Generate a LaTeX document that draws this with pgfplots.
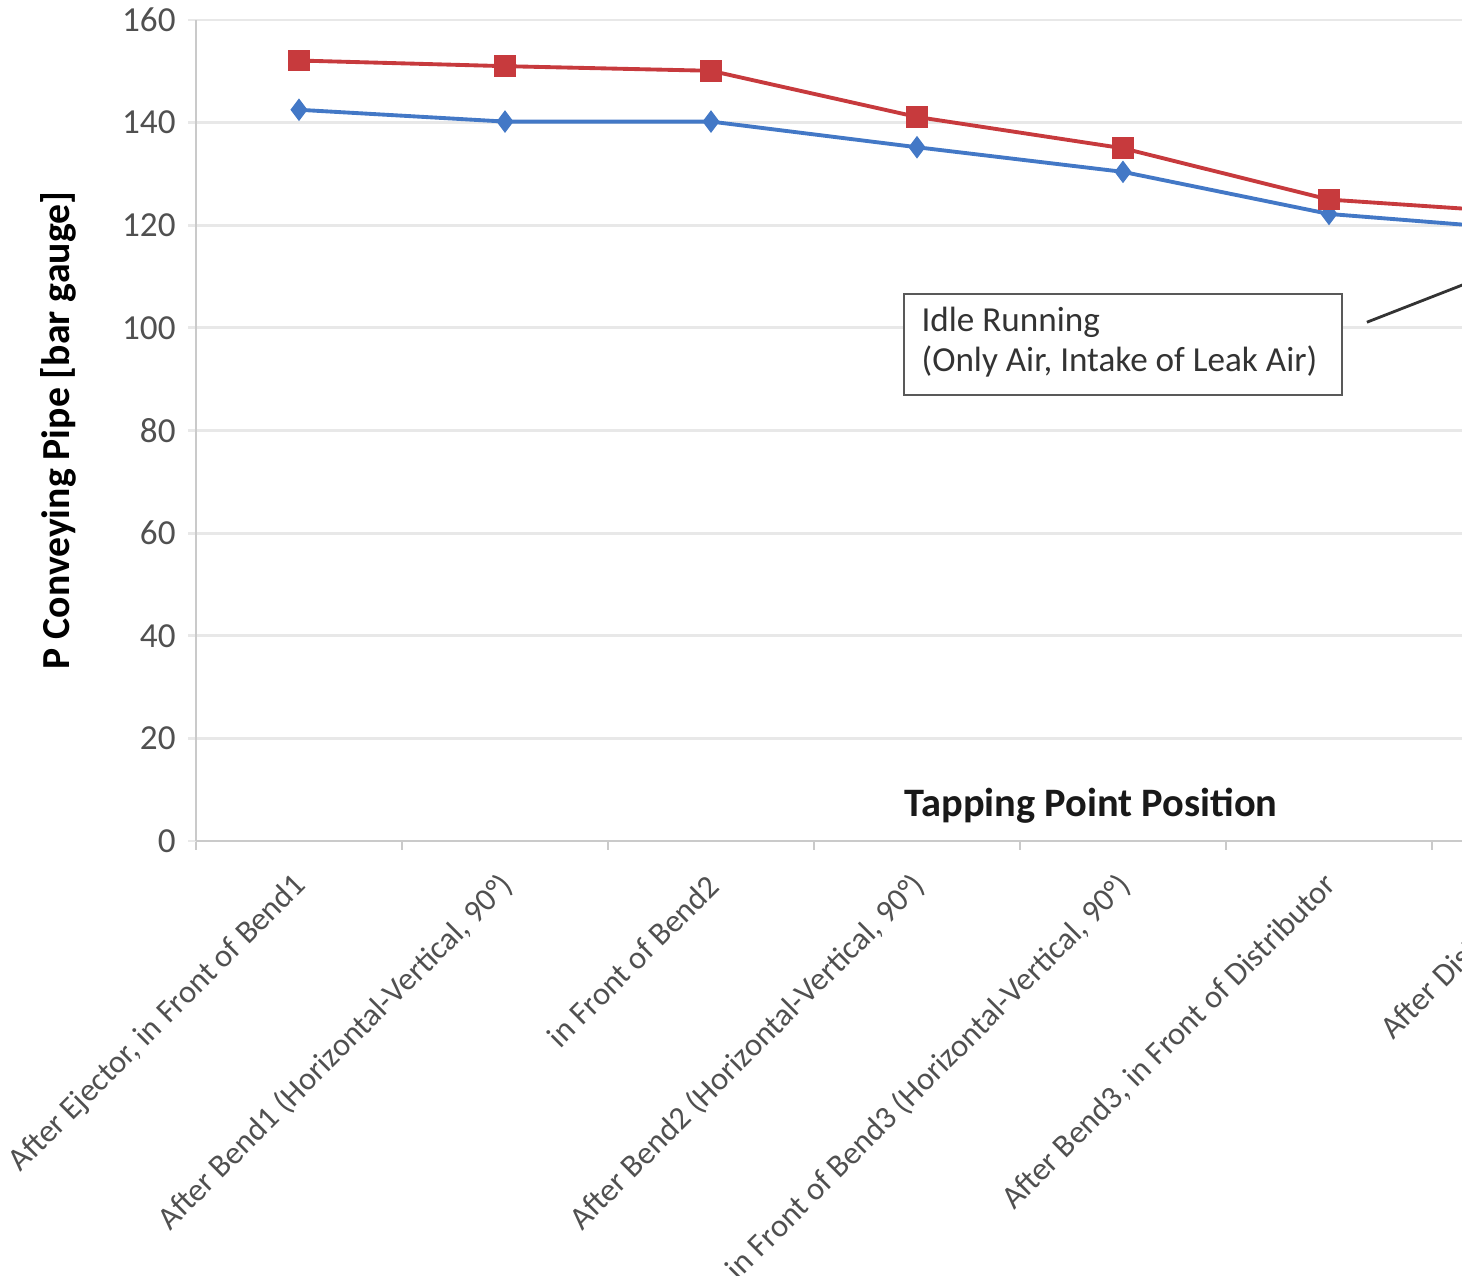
\documentclass[border=0pt]{standalone}
\usepackage{pgfplots}
\pgfplotsset{compat=1.18}
\usepackage{fontspec}
\setmainfont{Carlito}
\definecolor{exred}{HTML}{C73A3D}
\definecolor{exblue}{HTML}{4378C6}
\definecolor{ticktext}{HTML}{505050}
\definecolor{gridc}{HTML}{E8E8E8}
\definecolor{axc}{HTML}{CACACA}
\begin{document}
\begin{tikzpicture}
\useasboundingbox (0,0) rectangle (14.62cm,12.76cm);
\clip (0,0) rectangle (14.62cm,12.76cm);
\begin{axis}[
  at={(1.96cm,4.35cm)}, anchor=south west,
  scale only axis, width=14.42cm, height=8.21cm,
  xmin=-0.5, xmax=6.5, ymin=0, ymax=160,
  axis lines*=left,
  axis line style={draw=axc, line width=0.8pt},
  /pgf/number format/assume math mode=true,
  xtick={0,...,6},
  xticklabels={After Ejector{,} in Front of Bend1,
    After Bend1 (Horizontal-Vertical{,} 90°),
    in Front of Bend2,
    After Bend2 (Horizontal-Vertical{,} 90°),
    in Front of Bend3 (Horizontal-Vertical{,} 90°),
    After Bend3{,} in Front of Distributor,
    After Distributor},
  minor xtick={-0.5,0.5,...,6.5},
  ytick={0,20,...,160},
  ymajorgrids,
  grid style={draw=gridc, line width=0.8pt},
  tick align=outside,
  major tick length=0.08cm,
  minor tick length=0.09cm,
  major x tick style={draw=none},
  minor x tick style={draw=axc, line width=0.8pt},
  ytick style={draw=gridc, line width=0.8pt},
  yticklabel style={font=\fontsize{10}{12}\selectfont, text=ticktext},
  xticklabel style={xshift=0.3mm, yshift=-3.1mm, rotate=45, anchor=east, inner sep=0pt,
    font=\fontsize{9.2}{11}\selectfont, text=ticktext},
  ylabel={P Conveying Pipe [bar gauge]},
  ylabel style={at={(axis description cs:-0.0957,0.5)}, anchor=center,
    font=\bfseries\fontsize{11.3}{13}\selectfont},
]
\addplot[exblue, line width=1.1pt, mark=diamond*, mark size=2.9pt,
  mark options={solid, fill=exblue, line width=0.4pt}]
  coordinates {(0,142.5) (1,140.2) (2,140.2) (3,135.2) (4,130.4) (5,122.2) (6,119.0)};
\addplot[exred, line width=1.1pt, mark=square*, mark size=2.9pt,
  mark options={solid, fill=exred, line width=0.4pt}]
  coordinates {(0,152.1) (1,151.0) (2,150.1) (3,141.1) (4,135.0) (5,125.0) (6,122.3)};
\draw[draw=black!65, fill=white, line width=0.8pt]
  (axis cs:2.937,86.9) rectangle (axis cs:5.063,106.6);
\node[anchor=west, align=left, inner sep=0pt, text=black!80,
  font=\fontsize{10}{11.4}\selectfont] at (axis cs:3.019,97.2)
  {Idle Running\\(Only Air, Intake of Leak Air)};
\draw[black!80, line width=0.8pt] (axis cs:5.184,101.1) -- (axis cs:6.2,117.0);
\node[font=\bfseries\fontsize{11.5}{13}\selectfont, text=black!90]
  at (axis cs:3.845,6.9) {Tapping Point Position};
\end{axis}
\end{tikzpicture}
\end{document}
